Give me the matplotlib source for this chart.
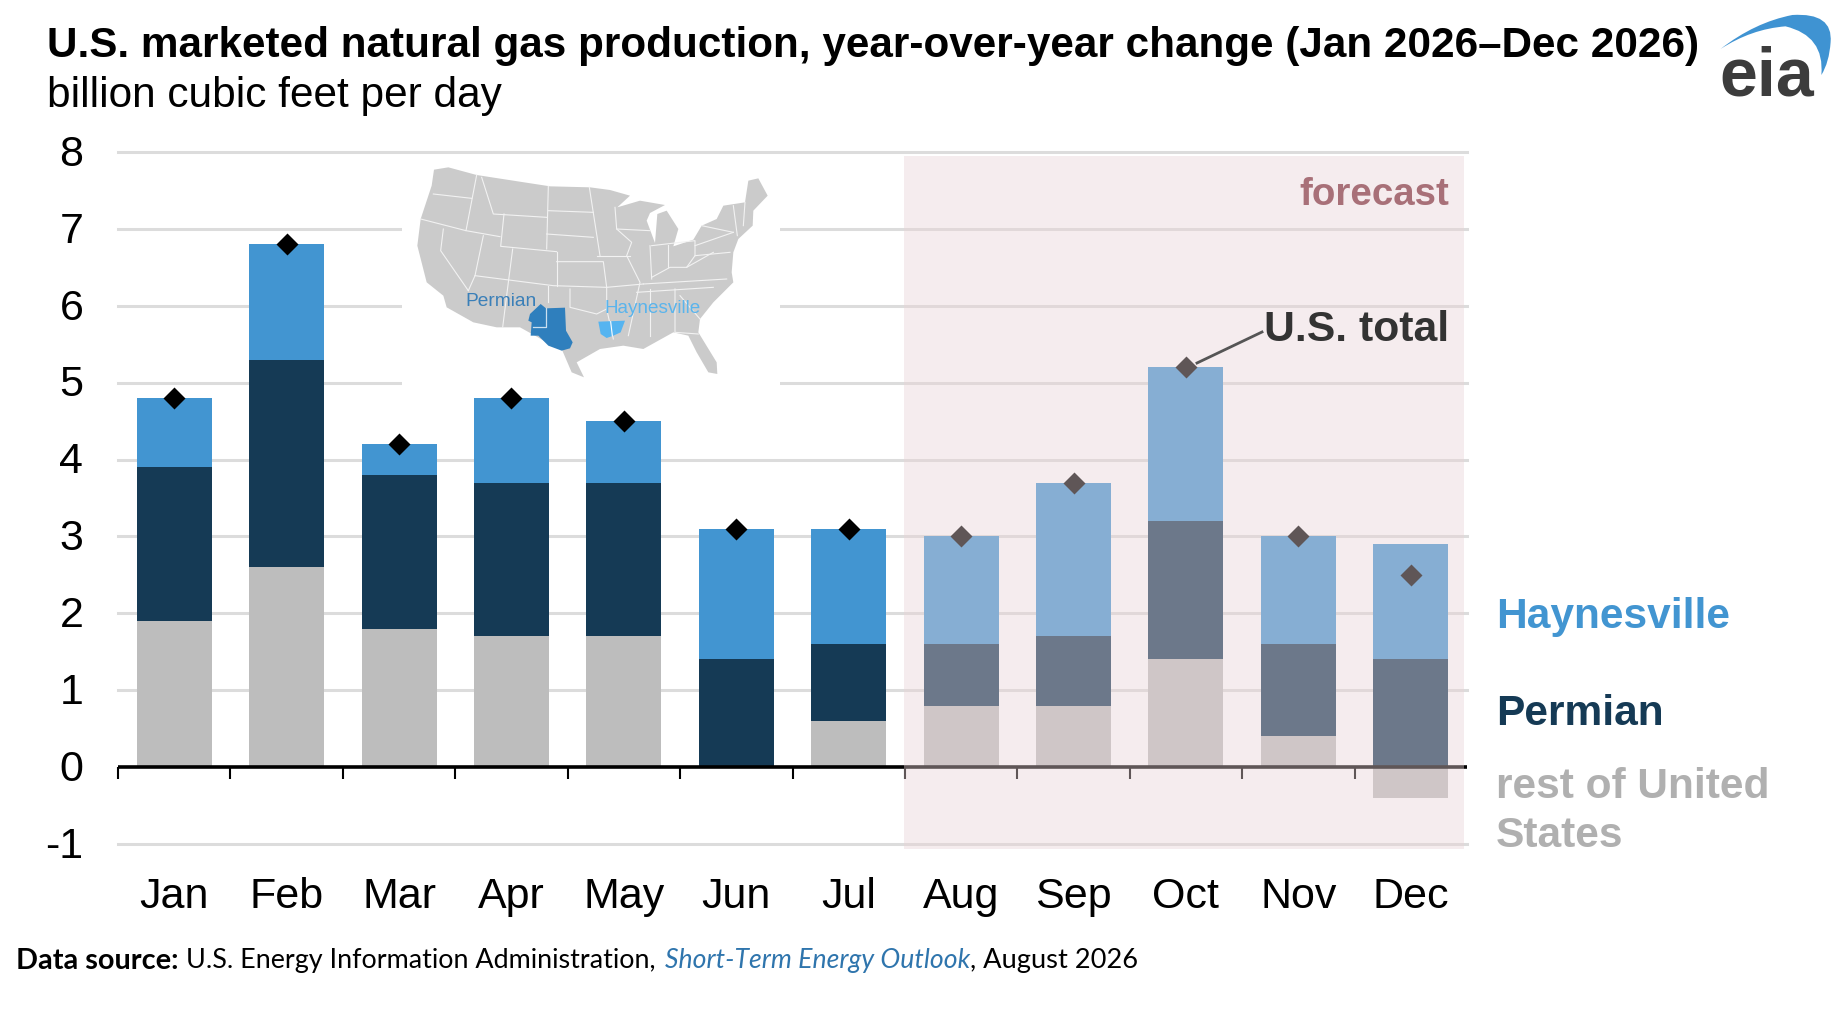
import matplotlib
matplotlib.use("Agg")
import matplotlib.pyplot as plt
from matplotlib.patches import Polygon, Rectangle, PathPatch
from matplotlib.path import Path
from matplotlib.transforms import ScaledTranslation
import numpy as np

months = ["Jan","Feb","Mar","Apr","May","Jun","Jul","Aug","Sep","Oct","Nov","Dec"]
rest = [1.9,2.6,1.8,1.7,1.7,0.0,0.6,0.8,0.8,1.4,0.4,-0.4]
permian = [2.0,2.7,2.0,2.0,2.0,1.4,1.0,0.8,0.9,1.8,1.2,1.4]
haynesville = [0.9,1.5,0.4,1.1,0.8,1.7,1.5,1.4,2.0,2.0,1.4,1.5]
total = [4.8,6.8,4.2,4.8,4.5,3.1,3.1,3.0,3.7,5.2,3.0,2.5]
yticks = [-1,0,1,2,3,4,5,6,7,8]

C_H, C_P, C_R = "#4295d1", "#153a55", "#bdbdbd"
FONT = "Liberation Sans"
W, H = 1836, 1020
plt.rcParams["font.family"] = FONT
fig = plt.figure(figsize=(W/100, H/100), dpi=100, facecolor="white")

# main axes: x 118..1467, y 845 (-1) .. 153 (8)
ax = fig.add_axes([118/W, 1-845/H, (1467-118)/W, (845-153)/H])
ax.set_xlim(-0.5, 11.5)
ax.set_ylim(-1, 8)
x = np.arange(12)
r = np.array(rest); p = np.array(permian); h = np.array(haynesville)
bw = 0.667
ax.bar(x, r, bw, color=C_R, zorder=2)
pb = np.where(r > 0, r, 0)
ax.bar(x, p, bw, bottom=pb, color=C_P, zorder=2)
ax.bar(x, h, bw, bottom=pb+p, color=C_H, zorder=2)
for s in ["top","right","left","bottom"]:
    ax.spines[s].set_visible(False)
ax.set_yticks(yticks)
ax.set_yticklabels([str(v) for v in yticks], fontsize=31, color="black")
ax.set_xticks([])
ax.tick_params(axis="y", length=0, pad=25)
shift = ScaledTranslation(0, 2/72, fig.dpi_scale_trans)
for lab in ax.get_yticklabels():
    lab.set_transform(lab.get_transform() + shift)
for v in yticks:
    if v != 0:
        ax.axhline(v, color="#dcdcdc", lw=2.2, zorder=1, clip_on=False)
ax.axhline(0, color="black", lw=2.6, zorder=3)
for b in np.arange(-0.5, 11.5, 1):
    ax.plot([b, b], [0, -0.16], color="black", lw=1.5, zorder=3, clip_on=False, solid_capstyle="butt")
for xi, m in zip(x, months):
    ax.text(xi, -1.68, m, ha="center", va="center", fontsize=31, color="black")
ax.plot(x, total, ls="none", marker="D", ms=11.5, color="black", mec="none", zorder=4)

# forecast overlay
ax.add_patch(Rectangle((6.49, -1.07), 11.47-6.49, 9.02, facecolor="#e9d3d6", alpha=0.41,
                       edgecolor="none", zorder=5, clip_on=False))
ax.text(11.34, 7.45, "forecast", ha="right", va="center", fontsize=27.7, fontweight="bold", color="#a87078", zorder=6)
ax.text(11.34, 5.7, "U.S. total", ha="right", va="center",
        fontsize=30.8, fontweight="bold", color="#333333", zorder=6)

# overlay in pixel coordinates
ov = fig.add_axes([0, 0, 1, 1], facecolor="none")
ov.set_xlim(0, W); ov.set_ylim(H, 0); ov.axis("off")
ov.add_patch(Rectangle((402, 170), 378, 217, facecolor="white", edgecolor="none", zorder=1))
ov.plot([1262, 1197], [333, 364], color="#555555", lw=2, zorder=3)

def z(pts):
    return [(380+a/3, 140+b/3) for a, b in pts]

outline = [(162,92),(205,85),(290,108),(400,125),(510,142),(630,145),(690,153),(750,170),(712,205),(780,185),
 (855,198),(810,222),(800,245),(825,312),(832,225),(860,215),(895,270),(880,322),(940,302),(965,260),(1010,240),
 (1030,200),(1095,190),(1105,125),(1135,118),(1163,170),(1120,215),(1118,260),(1075,300),(1060,340),(1055,400),
 (1060,430),(1000,490),(960,540),(955,580),(1010,670),(1012,705),(985,700),(950,640),(925,590),(880,580),(790,630),
 (730,620),(660,630),(590,670),(612,715),(575,700),(545,630),(500,610),(465,590),(420,565),(350,565),(280,550),
 (200,505),(190,470),(140,430),(112,320),(122,240),(155,140)]
ov.add_patch(Polygon(z(outline), closed=True, facecolor="#cbcbcb", edgecolor="none", zorder=2))
state_lines = [
 [(290,108),(258,275),(122,240)],[(258,275),(360,293)],[(305,115),(340,225),(500,235)],[(160,165),(275,178)],
 [(505,142),(500,330)],[(505,215),(640,220)],[(628,145),(660,350)],[(500,285),(640,295)],[(372,225),(362,322),(530,338)],
 [(190,270),(182,335),(265,455)],[(310,290),(285,410),(265,455)],[(285,410),(520,440),(680,445),(790,435)],
 [(398,330),(385,430),(368,565)],[(530,338),(530,440)],[(530,368),(670,368),(680,445)],[(505,440),(505,490)],
 [(570,450),(570,505),(650,525),(680,510),(680,445)],[(650,350),(750,350)],[(705,205),(710,270),(755,310),(740,350),(780,430),(745,590)],
 [(710,270),(810,275)],[(810,320),(815,420)],[(815,320),(945,305),(945,350)],[(865,318),(865,385)],[(790,435),(1040,420)],
 [(815,415),(870,385),(920,385),(945,350),(1050,340)],[(945,320),(1060,280)],[(1060,200),(1072,290)],[(1095,190),(1090,260)],
 [(770,460),(1000,445)],[(810,450),(810,590)],[(885,450),(885,580),(955,585)],[(900,470),(960,540)],[(680,510),(700,600)],
 [(965,260),(1060,280)],[(920,385),(1000,340)],
]
for sl in state_lines:
    pts = np.array(z(sl))
    ov.plot(pts[:,0], pts[:,1], color="#f2f2f2", lw=0.8, zorder=3, solid_joinstyle="round")
perm_shape = [(482,495),(498,508),(555,506),(558,575),(578,610),(570,628),(545,635),(505,620),(475,590),(452,590),(455,550),(445,545),(450,525)]
ov.add_patch(Polygon(z(perm_shape), closed=True, facecolor="#2f7fbd", edgecolor="none", zorder=4))
ov.plot(*np.array(z([(498,508),(498,563),(460,563)])).T, color="#cbe0f0", lw=0.9, zorder=4)
hay_shape = [(655,548),(735,545),(722,580),(700,590),(680,597),(662,585)]
ov.add_patch(Polygon(z(hay_shape), closed=True, facecolor="#55b4f0", edgecolor="none", zorder=4))
ov.plot(*np.array(z([(692,548),(697,590)])).T, color="white", lw=0.8, zorder=4)
ov.text(465, 302, "Permian", fontsize=13.8, color="#3a7fb8", zorder=5, ha="left", va="center")
ov.text(604, 309, "Haynesville", fontsize=13.6, color="#5ab4ec", zorder=5, ha="left", va="center")

# titles
ov.text(47, 46, "U.S. marketed natural gas production, year-over-year change (Jan 2026\u2013Dec 2026)",
        fontsize=30.4, fontweight="bold", color="black", va="center", ha="left")
ov.text(47, 96, "billion cubic feet per day", fontsize=30.5, color="black", va="center", ha="left")

# legend labels
ov.text(1496, 617, "Haynesville", fontsize=30.6, fontweight="bold", color=C_H, va="center")
ov.text(1496, 714, "Permian", fontsize=30.6, fontweight="bold", color=C_P, va="center")
ov.text(1496, 787, "rest of United", fontsize=30.6, fontweight="bold", color="#b0b0b0", va="center")
ov.text(1496, 836, "States", fontsize=30.6, fontweight="bold", color="#b0b0b0", va="center")

# footnote
sf = "Lato"
t1 = ov.text(16, 961, "Data source:", fontsize=20.8, fontweight="bold", family=sf, color="black", va="center")
r_ = fig.canvas.get_renderer()
def nxt(t, gap=7):
    return t.get_window_extent(r_).x1 + gap
t2 = ov.text(nxt(t1, 8), 961, "U.S. Energy Information Administration,", fontsize=19.4, family=sf, color="black", va="center")
t3 = ov.text(nxt(t2, 9), 961, "Short-Term Energy Outlook", fontsize=19.2, family=sf, style="italic", color="#2f75ad", va="center")
t4 = ov.text(nxt(t3, 0), 961, ", August 2026", fontsize=19.6, family=sf, color="black", va="center")

# logo
arc = [(1230,150),(1330,70),(1440,48),(1560,40),(1552,130),(1548,190),(1525,228),(1535,110),(1420,82),(1320,90),(1230,150)]
verts = [(1300+a/2.925, b/3) for a, b in arc]
codes = [Path.MOVETO] + [Path.CURVE3]*10
ov.add_patch(PathPatch(Path(verts, codes), facecolor="#3f93d2", edgecolor="none", zorder=5))
ov.text(1767, 96, "eia", fontsize=49, fontweight="bold", color="#3c3c3c", ha="center", va="baseline", zorder=6)

fig.savefig("out.png", dpi=100)
